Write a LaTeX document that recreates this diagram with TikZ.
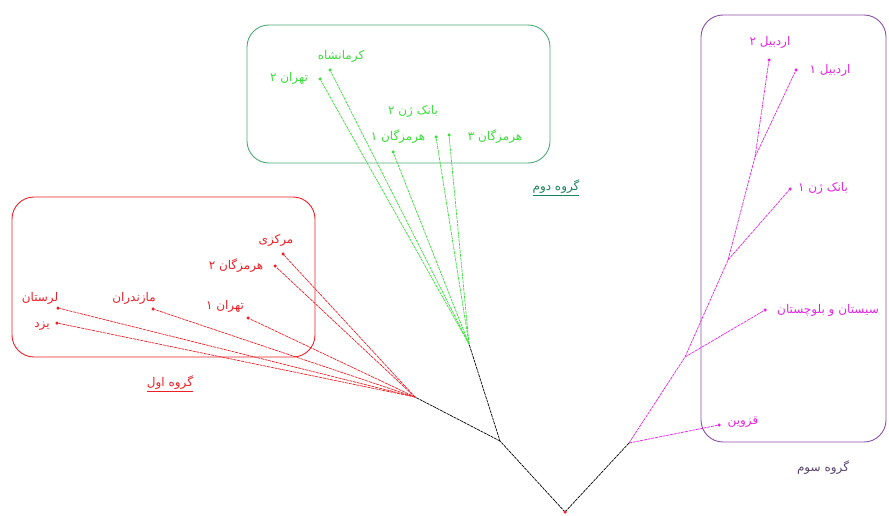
\documentclass[tikz,border=0pt]{standalone}
\usepackage{fontspec}
\newfontfamily\farsi[Script=Arabic]{DejaVu Sans}
\TeXXeTstate=1
\newcommand{\fa}[1]{\beginR #1\endR}
\definecolor{grpred}{RGB}{236,32,40}
\definecolor{grpgreen}{RGB}{60,220,60}
\definecolor{boxgreen}{RGB}{80,170,120}
\definecolor{titlegreen}{RGB}{30,130,90}
\definecolor{grpmag}{RGB}{225,40,225}
\definecolor{boxpurple}{RGB}{140,80,170}
\definecolor{titlepurple}{RGB}{90,70,110}

\begin{document}
\begin{tikzpicture}[x=1pt, y=-1pt,
    leaf/.style = {circle, fill, inner sep=0pt, minimum size=3.5pt},
    place/.style = {font=\farsi\fontsize{12}{13}\selectfont, inner sep=1pt},
    branch/.style = {line width=.7pt, dash pattern=on 3pt off .8pt},
    groupbox/.style = {rounded corners=22pt, line width=.9pt}]
      \useasboundingbox (0,0) rectangle (889,516);

      % group boxes
      \draw [groupbox, grpred] (12,197) rectangle (315,357);
      \draw [groupbox, boxgreen] (247,25) rectangle (550,163);
      \draw [groupbox, boxpurple] (701,15) rectangle (886,442);
      \node [place, grpred] (title1) at (170,384) {\underline{\fa{گروه اول}}};
      \node [place, titlegreen] (title2) at (556,188) {\underline{\fa{گروه دوم}}};
      \node [place, titlepurple] (title3) at (823,468) {\fa{گروه سوم}};

      % inner points of the tree
      \coordinate (root) at (565,512);
      \coordinate (lj) at (500,441);
      \coordinate (rj) at (415,397);
      \coordinate (gj) at (469,344);
      \coordinate (mj) at (629,443);
      \coordinate (m1) at (685,357);
      \coordinate (m2) at (728,260);
      \coordinate (m3) at (755,157);

      % leaves
      \node [leaf, grpred] (markazi) at (283,254) {};
      \node [leaf, grpred] (hormozB) at (275,266) {};
      \node [leaf, grpred] (tehranA) at (248,318) {};
      \node [leaf, grpred] (mazandaran) at (153,309) {};
      \node [leaf, grpred] (lorestan) at (58,308) {};
      \node [leaf, grpred] (yazd) at (57,323) {};
      \node [leaf, grpgreen] (kermanshah) at (330,70) {};
      \node [leaf, grpgreen] (tehranB) at (320,79) {};
      \node [leaf, grpgreen] (hormozA) at (393,152) {};
      \node [leaf, grpgreen] (bankB) at (436,137) {};
      \node [leaf, grpgreen] (hormozC) at (449,135) {};
      \node [leaf, grpmag] (ardabilB) at (769,60) {};
      \node [leaf, grpmag] (ardabilA) at (796,70) {};
      \node [leaf, grpmag] (bankA) at (790,189) {};
      \node [leaf, grpmag] (sistan) at (765,310) {};
      \node [leaf, grpmag] (qazvin) at (719,425) {};

      % leaf names
      \node [place, grpred] (markazi-l) at (276,240) {\fa{مرکزی}};
      \node [place, grpred] (hormozB-l) at (236,266) {\fa{هرمزگان ۲}};
      \node [place, grpred] (tehranA-l) at (225,306) {\fa{تهران ۱}};
      \node [place, grpred] (mazandaran-l) at (134,298) {\fa{مازندران}};
      \node [place, grpred] (lorestan-l) at (40,298) {\fa{لرستان}};
      \node [place, grpred] (yazd-l) at (42,326) {\fa{یزد}};
      \node [place, grpgreen] (kermanshah-l) at (341,56) {\fa{کرمانشاه}};
      \node [place, grpgreen] (tehranB-l) at (289,78) {\fa{تهران ۲}};
      \node [place, grpgreen] (bankB-l) at (413,111) {\fa{بانک ژن ۲}};
      \node [place, grpgreen] (hormozA-l) at (398,137) {\fa{هرمزگان ۱}};
      \node [place, grpgreen] (hormozC-l) at (495,137) {\fa{هرمزگان ۳}};
      \node [place, grpmag] (ardabilB-l) at (770,42) {\fa{اردبیل ۲}};
      \node [place, grpmag] (ardabilA-l) at (830,70) {\fa{اردبیل ۱}};
      \node [place, grpmag] (bankA-l) at (823,188) {\fa{بانک ژن ۱}};
      \node [place, grpmag] (sistan-l) at (828,310) {\fa{سیستان و بلوچستان}};
      \node [place, grpmag] (qazvin-l) at (743,422) {\fa{قزوین}};

      % branches
      \draw [branch] (root) -- (lj) -- (gj);
      \draw [branch] (lj) -- (rj);
      \draw [branch] (root) -- (mj);
      \foreach \n in {markazi, hormozB, tehranA, mazandaran, lorestan, yazd}
               {
                 \draw [branch, grpred] (rj) -- (\n);
               }
      \foreach \n in {kermanshah, tehranB, hormozA, bankB, hormozC}
               {
                 \draw [branch, grpgreen] (gj) -- (\n);
               }
      \draw [branch, grpmag] (mj) -- (m1) -- (m2) -- (m3) -- (ardabilB);
      \draw [branch, grpmag] (m3) -- (ardabilA);
      \draw [branch, grpmag] (m2) -- (bankA);
      \draw [branch, grpmag] (m1) -- (sistan);
      \draw [branch, grpmag] (mj) -- (qazvin);
      \node [leaf, grpred] (rootdot) at (root) {};
    \end{tikzpicture}
\end{document}
